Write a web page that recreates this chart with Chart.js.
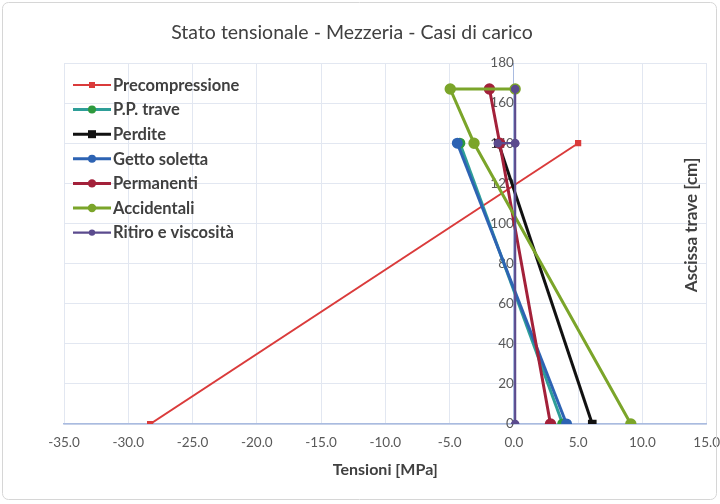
<!DOCTYPE html>
<html><head><meta charset="utf-8">
<script src="https://cdn.jsdelivr.net/npm/chart.js@4.4.1/dist/chart.umd.min.js"></script>
<style>html,body{margin:0;padding:0;background:#fff;}#wrap{width:720px;height:504px;}</style>
</head><body><div id="wrap"><canvas id="c" width="720" height="504"></canvas></div>
<script>
// ---- data ----
const chartTitle = "Stato tensionale - Mezzeria - Casi di carico";
const xAxisTitle = "Tensioni [MPa]";
const yAxisTitle = "Ascissa trave [cm]";
const seriesNames = ["Precompressione","P.P. trave","Perdite","Getto soletta","Permanenti","Accidentali","Ritiro e viscosità"];
const precompressioneX = [-28.3, 5.0];        const precompressioneY = [0, 140];
const ppTraveX = [3.8, -4.2];                  const ppTraveY = [0, 140];
const perditeX = [6.1, -1.2];                  const perditeY = [0, 140];
const gettoSolettaX = [4.1, -4.4];             const gettoSolettaY = [0, 140];
const permanentiX = [2.85, -1.1, -1.9];        const permanentiY = [0, 140, 167];
const accidentaliX = [9.1, -3.1, -4.95, 0.1];  const accidentaliY = [0, 140, 167, 167];
const ritiroX = [0.1, 0.1, -1.25, 0.1, 0.1];   const ritiroY = [0, 140, 140, 140, 167];
const xTicks = [-35, -30, -25, -20, -15, -10, -5, 0, 5, 10, 15];
const yTicks = [0, 20, 40, 60, 80, 100, 120, 140, 160, 180];

const seriesX = [precompressioneX, ppTraveX, perditeX, gettoSolettaX, permanentiX, accidentaliX, ritiroX];
const seriesY = [precompressioneY, ppTraveY, perditeY, gettoSolettaY, permanentiY, accidentaliY, ritiroY];

// ---- styles ----
const lineColors  = ["#DA3B3B","#2E9E98","#111111","#2D63B3","#A3213A","#7BA52A","#5B4B8E"];
const pointColors = ["#DA3B3B","#2E9A3E","#111111","#2D63B3","#A3213A","#7BA52A","#5B4B8E"];
const pointStyles = ["rect","circle","rect","circle","circle","circle","circle"];
const pointRadii  = [3,4,4,4,4.2,4.2,3.2];
const lineWidths  = [2,3,3,3,3,3,2.2];
const FONT = "Lato, 'Open Sans', sans-serif";

const datasets = seriesNames.map((n,i)=>({
  label: n,
  data: seriesX[i].map((x,k)=>({x:x, y:seriesY[i][k]})),
  borderColor: lineColors[i],
  backgroundColor: pointColors[i],
  pointBackgroundColor: pointColors[i],
  pointBorderColor: pointColors[i],
  pointStyle: pointStyles[i],
  pointRadius: pointRadii[i],
  borderWidth: lineWidths[i],
  showLine: true,
  tension: 0,
  order: seriesNames.length - i
}));

const decor = {
  id: 'decor',
  afterDraw(chart){
    const ctx = chart.ctx;
    ctx.save();
    // frame
    ctx.strokeStyle = '#d6d6d6'; ctx.lineWidth = 1;
    ctx.beginPath();
    if (ctx.roundRect) ctx.roundRect(2.5,2.5,714,497,6); else ctx.rect(2.5,2.5,714,497);
    ctx.stroke();
    // title
    ctx.fillStyle = '#404040';
    ctx.font = "19.5px " + FONT;
    ctx.textAlign = 'center'; ctx.textBaseline = 'middle';
    ctx.fillText(chartTitle, 352, 33);
    // y-axis title (right)
    ctx.save();
    ctx.translate(692, 225);
    ctx.rotate(-Math.PI/2);
    ctx.font = "bold 17px " + FONT;
    ctx.fillStyle = '#404040';
    ctx.fillText(yAxisTitle, 0, 0);
    ctx.restore();
    // legend
    chart.data.datasets.forEach((ds,i)=>{
      const y = 85 + i*24.6;
      ctx.strokeStyle = ds.borderColor; ctx.lineWidth = ds.borderWidth;
      ctx.beginPath(); ctx.moveTo(73,y); ctx.lineTo(111,y); ctx.stroke();
      ctx.fillStyle = ds.pointBackgroundColor;
      const r = ds.pointRadius;
      ctx.beginPath();
      if (ds.pointStyle === 'rect') ctx.rect(92-r, y-r, 2*r, 2*r);
      else ctx.arc(92, y, r, 0, Math.PI*2);
      ctx.fill();
      ctx.fillStyle = '#404040';
      ctx.font = "bold 16.5px " + FONT;
      ctx.textAlign = 'left';
      ctx.fillText(ds.label, 113, y+0.5);
    });
    ctx.restore();
  }
};

new Chart(document.getElementById('c'), {
  type: 'scatter',
  data: { datasets },
  plugins: [decor],
  options: {
    responsive: false,
    animation: false,
    devicePixelRatio: 1,
    layout: { padding: { left: 64, right: 12, top: 63, bottom: 0 } },
    plugins: { legend: { display: false }, title: { display: false }, tooltip: { enabled: false } },
    scales: {
      x: {
        type: 'linear', position: 'bottom', min: -35, max: 15,
        afterBuildTicks: s => { s.ticks = xTicks.map(v=>({value:v})); },
        afterFit: s => { s.height = 80; },
        ticks: { callback: v => v.toFixed(1), color: '#595959', font: { family: FONT, size: 13.5 }, padding: 0, maxRotation: 0 },
        grid: { color: '#e2e7f1', drawTicks: true, tickLength: 11, tickColor: 'rgba(0,0,0,0)', lineWidth: 1 },
        border: { color: '#a9bbe0', width: 1.5 },
        title: { display: true, text: xAxisTitle, color: '#404040', font: { family: FONT, size: 16, weight: 'bold' }, padding: { top: 0, bottom: 24.5 } }
      },
      y: {
        type: 'linear', position: { x: 0 }, min: 0, max: 180,
        afterBuildTicks: s => { s.ticks = yTicks.map(v=>({value:v})); },
        ticks: { color: '#595959', font: { family: FONT, size: 13.5 }, padding: 14 },
        grid: { color: '#e2e7f1', drawTicks: false, lineWidth: 1 },
        border: { color: '#a9bbe0', width: 1 }
      }
    }
  }
});
</script></body></html>
